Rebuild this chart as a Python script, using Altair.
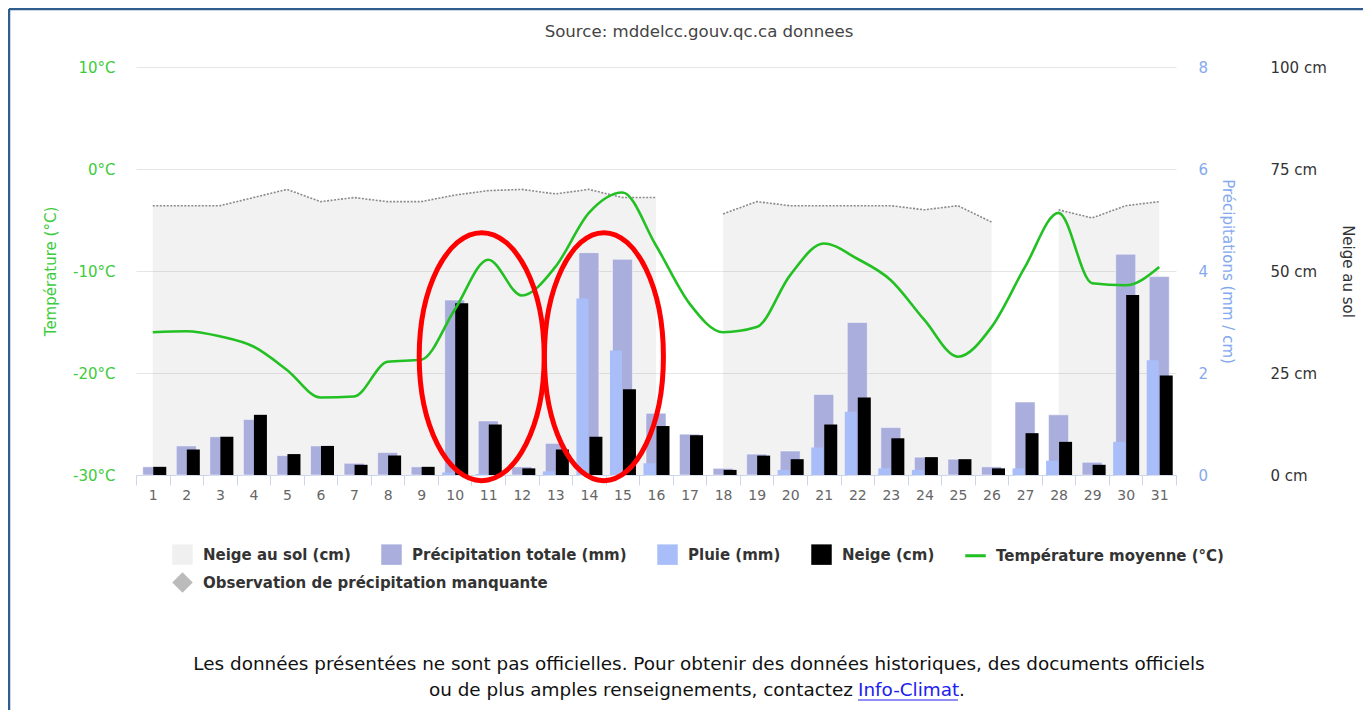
import altair as alt
import pandas as pd

# ---------------- data ----------------
days = list(range(1, 32))
temp_moy = [-16.0, -15.9, -16.4, -17.4, -19.7, -22.4, -22.3, -18.9, -18.7, -13.8,
            -8.9, -12.4, -9.6, -4.3, -2.3, -7.5, -13.2, -16.0, -15.5, -10.4,
            -7.3, -8.8, -10.9, -14.8, -18.4, -15.5, -9.6, -4.3, -11.2, -11.4, -9.6]
neige_sol = [66, 66, 66, 68, 70, 67, 68, 67, 67, 68.6,
             69.7, 70, 68.9, 70, 68, 68, None, 64, 67, 66,
             66, 66, 66, 65, 66, 62, None, 65, 63, 66, 67]
precip_tot = [0.16, 0.57, 0.75, 1.09, 0.38, 0.57, 0.23, 0.44, 0.16, 3.43,
              1.06, 0.16, 0.62, 4.36, 4.23, 1.21, 0.80, 0.13, 0.41, 0.47,
              1.58, 2.99, 0.93, 0.35, 0.31, 0.16, 1.43, 1.18, 0.25, 4.33, 3.89]
pluie = [0, 0, 0, 0, 0, 0, 0, 0, 0, 0.05,
         0.02, 0, 0.07, 3.46, 2.44, 0.23, 0, 0, 0, 0.10,
         0.54, 1.24, 0.13, 0.10, 0, 0, 0.13, 0.28, 0, 0.65, 2.25]
neige = [0.16, 0.50, 0.75, 1.18, 0.41, 0.57, 0.20, 0.38, 0.16, 3.37,
         0.99, 0.13, 0.50, 0.75, 1.68, 0.96, 0.78, 0.10, 0.38, 0.31,
         0.99, 1.52, 0.72, 0.35, 0.31, 0.13, 0.82, 0.65, 0.20, 3.53, 1.95]

temp_ticks = [-30, -20, -10, 0, 10]
precip_ticks = [0, 2, 4, 6, 8]
sol_ticks = [0, 25, 50, 75, 100]

legend_labels = ["Neige au sol (cm)", "Précipitation totale (mm)", "Pluie (mm)",
                 "Neige (cm)", "Température moyenne (°C)"]
legend_colors = ["#F0F0F0", "#AAAEDC", "#A9BEF8", "#000000", "#22C022"]
legend_shapes = ["square", "square", "square", "square",
                 "M -1 -0.15 L 1 -0.15 L 1 0.15 L -1 0.15 Z"]
legend2_labels = ["Observation de précipitation manquante"]
legend2_colors = ["#BBBBBB"]
legend2_shapes = ["diamond"]

# annotation ellipses (day, temperature level of centre)
ellipse_days = [10, 14]
ellipse_temp = [-18.4, -18.4]

title_text = "Source: mddelcc.gouv.qc.ca donnees"
footer_1 = "Les données présentées ne sont pas officielles. Pour obtenir des données historiques, des documents officiels"
footer_2 = "ou de plus amples renseignements, contactez"
footer_link = "Info-Climat"

df = pd.DataFrame({"jour": days, "temp": temp_moy, "sol": neige_sol,
                   "tot": precip_tot, "pluie": pluie, "neige": neige})

FONT = "DejaVu Sans"
GREEN = "#22C022"
GREEN_AX = "#3CCB3C"
BLUE_AX = "#85A9EE"

x_enc = alt.X("jour:O", scale=alt.Scale(paddingInner=0, paddingOuter=0),
              axis=alt.Axis(title=None, labelAngle=0, tickBand="extent", tickSize=10,
                            domainColor="#CCD6EB", tickColor="#CCD6EB",
                            labelColor="#666666", labelFontSize=14, labelPadding=3,
                            labelFont=FONT, grid=False))

base = alt.Chart(df)

# snow on ground
sol_scale = alt.Scale(domain=[0, 100], nice=False, zero=False)
sol_axis = alt.Axis(orient="right", values=sol_ticks, labelExpr="datum.value + ' cm'",
                    title="Neige au sol", titleColor="#333333", titleFontWeight="normal",
                    titleFontSize=15, titleFont=FONT, labelColor="#333333",
                    labelFontSize=15, labelFont=FONT, domain=False, ticks=False,
                    grid=False, offset=90, labelPadding=4, titlePadding=13)
sol_area = base.mark_area(color="#808080", opacity=0.1).encode(
    x=x_enc, y=alt.Y("sol:Q", scale=sol_scale, axis=sol_axis))
sol_line = base.mark_line(color="#8A8A8A", strokeWidth=1.6, strokeDash=[2, 1.5]).encode(
    x=x_enc, y=alt.Y("sol:Q", scale=sol_scale, axis=sol_axis))
sol_layer = alt.layer(sol_area, sol_line)

# precipitation bars
p_scale = alt.Scale(domain=[0, 8], nice=False)
p_axis = alt.Axis(orient="right", values=precip_ticks, title="Précipitations (mm / cm)",
                  titleColor=BLUE_AX, titleFontWeight="normal", titleFontSize=15,
                  titleFont=FONT, labelColor=BLUE_AX, labelFontSize=15, labelFont=FONT,
                  domain=False, ticks=False, grid=False, labelPadding=22, titlePadding=12)
bar_tot = base.mark_bar(color="#AAAEDC", width=20, stroke="#FFFFFF", strokeWidth=0.5).encode(
    x=x_enc, y=alt.Y("tot:Q", scale=p_scale, axis=p_axis))
bar_pluie = base.mark_bar(color="#A9BEF8", width=12, xOffset=-6.5).encode(
    x=x_enc, y=alt.Y("pluie:Q", scale=p_scale, axis=p_axis))
bar_neige = base.mark_bar(color="#000000", width=13, xOffset=7).encode(
    x=x_enc, y=alt.Y("neige:Q", scale=p_scale, axis=p_axis))
bars_layer = alt.layer(bar_tot, bar_pluie, bar_neige)

# temperature
t_scale = alt.Scale(domain=[-30, 10], nice=False, zero=False)
t_axis = alt.Axis(orient="left", values=temp_ticks, labelExpr="datum.value + '°C'",
                  title="Température (°C)", titleColor=GREEN_AX, titleFontWeight="normal",
                  titleFontSize=15, titleFont=FONT, labelColor=GREEN_AX, labelFontSize=15,
                  labelFont=FONT, domain=False, ticks=False, grid=True, gridColor="#E6E6E6",
                  labelPadding=21, titlePadding=14)
t_line = base.mark_line(color=GREEN, strokeWidth=2.6, interpolate="monotone").encode(
    x=x_enc, y=alt.Y("temp:Q", scale=t_scale, axis=t_axis))

ell_df = pd.DataFrame({"jour": ellipse_days, "temp": ellipse_temp})
ell1 = alt.Chart(ell_df.iloc[[0]]).mark_point(
    shape="M -0.504 0 A 0.504 1 0 1 1 0.504 0 A 0.504 1 0 1 1 -0.504 0 Z",
    size=61504, stroke="#FF0000", strokeWidth=5, filled=False, opacity=1, xOffset=27
).encode(x=x_enc, y=alt.Y("temp:Q", scale=t_scale, axis=t_axis))
ell2 = alt.Chart(ell_df.iloc[[1]]).mark_point(
    shape="M -0.48 0 A 0.48 1 0 1 1 0.48 0 A 0.48 1 0 1 1 -0.48 0 Z",
    size=61504, stroke="#FF0000", strokeWidth=5, filled=False, opacity=1, xOffset=15
).encode(x=x_enc, y=alt.Y("temp:Q", scale=t_scale, axis=t_axis))

leg_common = dict(title=None, orient="none", direction="horizontal",
                  labelFont=FONT, labelFontWeight="bold",
                  labelFontSize=15, labelColor="#333333", symbolSize=420,
                  columnPadding=30, rowPadding=9, labelOffset=10, padding=0,
                  symbolStrokeWidth=0, labelLimit=600)
leg_df = pd.DataFrame({"serie": legend_labels, "temp": [-100] * len(legend_labels)})
legend_layer = alt.Chart(leg_df).mark_point(filled=True, clip=True, opacity=1).encode(
    x=alt.value(0),
    y=alt.Y("temp:Q", scale=t_scale, axis=t_axis),
    color=alt.Color("serie:N", sort=None,
                    scale=alt.Scale(domain=legend_labels, range=legend_colors),
                    legend=alt.Legend(legendX=36, legendY=477, columns=5, **leg_common)),
    shape=alt.Shape("serie:N", sort=None,
                    scale=alt.Scale(domain=legend_labels, range=legend_shapes),
                    legend=alt.Legend(legendX=36, legendY=477, columns=5, **leg_common)),
)
leg2_df = pd.DataFrame({"obs": legend2_labels, "temp": [-100] * len(legend2_labels)})
legend2_layer = alt.Chart(leg2_df).mark_point(filled=True, clip=True, opacity=1).encode(
    x=alt.value(0),
    y=alt.Y("temp:Q", scale=t_scale, axis=t_axis),
    color=alt.Color("obs:N", sort=None,
                    scale=alt.Scale(domain=legend2_labels, range=legend2_colors),
                    legend=alt.Legend(legendX=36, legendY=505, **leg_common)),
    shape=alt.Shape("obs:N", sort=None,
                    scale=alt.Scale(domain=legend2_labels, range=legend2_shapes),
                    legend=alt.Legend(legendX=36, legendY=505, **leg_common)),
)
temp_layer = alt.layer(t_line, ell1, ell2, legend_layer, legend2_layer).resolve_scale(
    color="independent", shape="independent")

# texts and frame
one = pd.DataFrame({"a": [0]})
FOOT = 18.4
title_mark = alt.Chart(pd.DataFrame({"t": [title_text]})).mark_text(
    font=FONT, fontSize=16.6, color="#444444", align="center", baseline="middle"
).encode(text="t:N", x=alt.value(563), y=alt.value(-35))
foot1 = alt.Chart(pd.DataFrame({"t": [footer_1]})).mark_text(
    font=FONT, fontSize=FOOT, color="#111111", align="center", baseline="middle"
).encode(text="t:N", x=alt.value(563), y=alt.value(597))
foot2 = alt.Chart(pd.DataFrame({"t": [footer_2]})).mark_text(
    font=FONT, fontSize=FOOT, color="#111111", align="right", baseline="middle"
).encode(text="t:N", x=alt.value(717), y=alt.value(623))
foot_link = alt.Chart(pd.DataFrame({"t": [footer_link]})).mark_text(
    font=FONT, fontSize=FOOT, color="#2020EE", align="left", baseline="middle"
).encode(text="t:N", x=alt.value(722), y=alt.value(623))
foot_dot = alt.Chart(pd.DataFrame({"t": ["."]})).mark_text(
    font=FONT, fontSize=FOOT, color="#111111", align="left", baseline="middle"
).encode(text="t:N", x=alt.value(823), y=alt.value(623))
underline = alt.Chart(one).mark_rule(color="#2020EE", strokeWidth=1).encode(
    x=alt.value(722), x2=alt.value(822), y=alt.value(633))
frame_top = alt.Chart(one).mark_rule(color="#2F5E8E", strokeWidth=2.5).encode(
    x=alt.value(-127), x2=alt.value(1240), y=alt.value(-58))
frame_left = alt.Chart(one).mark_rule(color="#2F5E8E", strokeWidth=2.5).encode(
    x=alt.value(-127), y=alt.value(-58), y2=alt.value(660))

chart = alt.layer(
    sol_layer, bars_layer, temp_layer,
    title_mark, foot1, foot2, foot_link, foot_dot, underline, frame_top, frame_left
).resolve_scale(y="independent").properties(
    width=1040, height=408,
    autosize=alt.AutoSizeParams(type="none"),
    padding={"left": 128, "top": 59, "right": 187, "bottom": 235},
).configure(background="#FFFFFF").configure_view(stroke="transparent", strokeWidth=0)

chart.save("out.html", embed_options={"renderer": "svg", "actions": False})
